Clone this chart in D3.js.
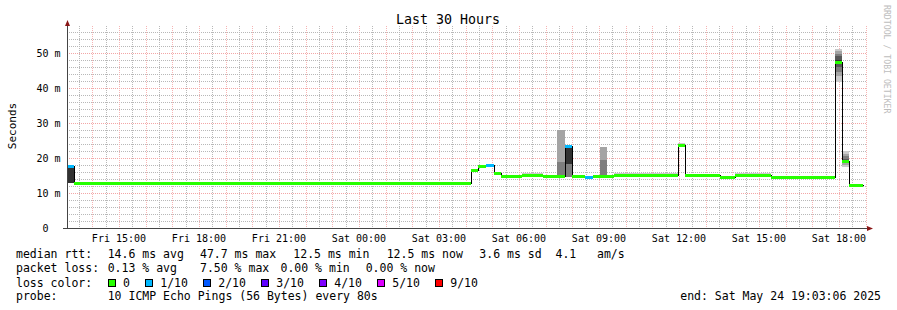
<!DOCTYPE html>
<html>
<head>
<meta charset="utf-8">
<title>Last 30 Hours</title>
<style>
  body { margin: 0; background: #fff; }
  svg text { font-family: "DejaVu Sans Mono", monospace; white-space: pre; fill: #000; }
</style>
</head>
<body>
<script src="https://cdn.jsdelivr.net/npm/d3@7/dist/d3.min.js"></script>
<script>
// step boundaries (one more than segments)
var bounds = [
  '2025-05-23 13:03:06', '2025-05-23 13:19:00', '2025-05-24 04:12:00', '2025-05-24 04:28:00',
  '2025-05-24 04:46:00', '2025-05-24 05:04:00', '2025-05-24 05:20:00', '2025-05-24 06:07:00',
  '2025-05-24 06:54:00', '2025-05-24 07:25:00', '2025-05-24 07:43:00', '2025-05-24 07:59:00',
  '2025-05-24 08:29:00', '2025-05-24 08:46:00', '2025-05-24 09:02:00', '2025-05-24 09:18:00',
  '2025-05-24 09:34:00', '2025-05-24 11:58:00', '2025-05-24 12:13:00', '2025-05-24 13:32:00',
  '2025-05-24 14:06:00', '2025-05-24 15:27:00', '2025-05-24 17:51:00', '2025-05-24 18:07:00',
  '2025-05-24 18:22:00', '2025-05-24 18:54:00'
];
// median rtt per segment, ms
var median = [17.7, 12.9, 16.6, 17.8, 18.1, 15.7, 14.9, 15.0, 14.8, 14.9, 23.5, 14.9, 14.6,
              14.9, 14.9, 14.9, 15.0, 23.6, 15.0, 14.7, 15.0, 14.7, 47.5, 19.2, 12.3];
// lost pings out of 10 per segment
var loss = [1, 0, 0, 0, 1, 0, 0, 0, 0, 0, 1, 0, 1, 0, 0, 0, 0, 0, 0, 0, 0, 0, 0, 0, 0];
// sorted ping times (ms) for the smoke, null where it hides under the median
var pings = [
  [12.9, 12.9, 12.9, 12.9, 12.9, 17.1, 17.1, 17.1, 17.1, 17.1],
  null, null, null, null, null, null,
  [14.9, 14.9, 14.9, 15.0, 15.0, 15.0, 15.0, 15.1, 15.3, 15.8],
  null,
  [14.8, 14.8, 14.9, 14.9, 14.9, 15.0, 15.0, 18.9, 28.0, 28.0],
  [14.7, 14.7, 14.7, 18.3, 18.3, 23.5, 23.5, 23.5, 23.5, 23.5],
  null, null, null,
  [14.9, 14.9, 14.9, 14.9, 14.9, 15.0, 15.0, 19.4, 23.1, 23.1],
  null,
  [14.9, 14.9, 15.0, 15.0, 15.0, 15.0, 15.0, 15.1, 15.3, 15.7],
  [23.3, 23.4, 23.5, 23.5, 23.6, 23.6, 23.7, 23.8, 24.0, 24.3],
  null, null,
  [14.9, 14.9, 15.0, 15.0, 15.0, 15.0, 15.0, 15.1, 15.2, 15.6],
  null,
  [41.8, 43.5, 44.5, 46.0, 47.0, 48.0, 49.0, 49.8, 50.5, 51.1],
  [17.5, 18.0, 18.5, 19.0, 19.2, 19.3, 19.6, 20.5, 21.2, 22.0],
  null
];
var lossLabels = ['0', '1/10', '2/10', '3/10', '4/10', '5/10', '9/10'];
var lossColors = ['#26ff00', '#00b8ff', '#0059ff', '#5e00ff', '#7e00ff', '#dd00ff', '#ff0000'];
var yTicks = [0, 10, 20, 30, 40, 50];
var rttItems = ['median rtt:', '14.6 ms avg', '47.7 ms max', '12.5 ms min', '12.5 ms now', '3.6 ms sd  4.1   am/s'];
var lossItems = ['packet loss:', '0.13 % avg', '7.50 % max', '0.00 % min', '0.00 % now'];
var probeItems = ['probe:', '10 ICMP Echo Pings (56 Bytes) every 80s'];
var endText = 'end: Sat May 24 19:03:06 2025';

var W = 897, H = 310;
var plot = {left: 67, right: 867, top: 26, bottom: 228};
var parse = d3.timeParse('%Y-%m-%d %H:%M:%S');
var times = bounds.map(parse);
var x = d3.scaleTime().domain([times[0], parse('2025-05-24 19:03:06')]).range([plot.left, plot.right]);
var y = d3.scaleLinear().domain([0, 57.7]).range([plot.bottom, plot.top]);

var svg = d3.select('body').append('svg').attr('width', W).attr('height', H);
svg.append('rect').attr('width', W).attr('height', H).attr('fill', '#fff');

// grid
var grid = svg.append('g').attr('shape-rendering', 'crispEdges');
var minorY = d3.range(2, 58, 2).filter(function(v) { return v % 10 != 0; });
var hours = x.ticks(d3.timeHour.every(1));
var halves = x.ticks(d3.timeMinute.every(30)).filter(function(t) { return t.getMinutes() != 0; });
function hline(v, c) {
  grid.append('line').attr('x1', plot.left).attr('x2', plot.right)
    .attr('y1', Math.round(y(v)) + 0.5).attr('y2', Math.round(y(v)) + 0.5)
    .attr('stroke', c).attr('stroke-dasharray', '1,1');
}
function vline(t, c) {
  grid.append('line').attr('y1', plot.top).attr('y2', plot.bottom)
    .attr('x1', Math.round(x(t)) + 0.5).attr('x2', Math.round(x(t)) + 0.5)
    .attr('stroke', c).attr('stroke-dasharray', '1,1');
}
minorY.forEach(function(v) { hline(v, '#b8b8b8'); });
halves.forEach(function(t) { vline(t, '#b8b8b8'); });
yTicks.slice(1).forEach(function(v) { hline(v, '#f3a6a6'); });
hours.forEach(function(t) { vline(t, '#f5b4b4'); });

// smoke: outer pairs light, inner pairs dark
var smoke = svg.append('g').attr('shape-rendering', 'crispEdges');
pings.forEach(function(p, i) {
  if (!p) return;
  for (var b = 0; b < 5; b++) {
    var g = Math.round(190 / 5 * (5 - (b + 1))) + 50;
    smoke.append('rect')
      .attr('x', Math.round(x(times[i])))
      .attr('width', Math.round(x(times[i + 1])) - Math.round(x(times[i])))
      .attr('y', Math.round(y(p[9 - b])))
      .attr('height', Math.max(0, Math.round(y(p[b])) - Math.round(y(p[9 - b]))))
      .attr('fill', d3.rgb(g, g, g));
  }
});

// median step line
var pts = median.map(function(m, i) { return [Math.round(x(times[i])) + 0.5, Math.round(y(m)) + 0.5]; });
pts.push([Math.round(x(times[times.length - 1])) + 0.5, Math.round(y(median[median.length - 1])) + 0.5]);
svg.append('path')
  .attr('d', d3.line().curve(d3.curveStepAfter)(pts))
  .attr('fill', 'none').attr('stroke', '#000').attr('stroke-width', 1)
  .attr('shape-rendering', 'crispEdges');

// loss coloured median
svg.append('g').attr('shape-rendering', 'crispEdges')
  .selectAll('rect').data(median).join('rect')
  .attr('x', function(d, i) { return Math.round(x(times[i])); })
  .attr('width', function(d, i) { return Math.round(x(times[i + 1])) - Math.round(x(times[i])); })
  .attr('y', function(d) { return Math.round(y(d)) - 1; })
  .attr('height', 3)
  .attr('fill', function(d, i) { return lossColors[loss[i]]; });

// axes
svg.append('line').attr('x1', plot.left + 0.5).attr('x2', plot.left + 0.5)
  .attr('y1', plot.top - 1).attr('y2', plot.bottom + 1)
  .attr('stroke', '#444').attr('shape-rendering', 'crispEdges');
svg.append('line').attr('x1', plot.left - 4).attr('x2', plot.right + 1)
  .attr('y1', plot.bottom + 0.5).attr('y2', plot.bottom + 0.5)
  .attr('stroke', '#444').attr('shape-rendering', 'crispEdges');
svg.append('path').attr('d', 'M65,26 L70,26 L67.5,20 Z').attr('fill', '#8a1616');
svg.append('path').attr('d', 'M867,226 L867,231 L873,228.5 Z').attr('fill', '#8a1616');

// tick labels
svg.append('g').selectAll('text').data(yTicks).join('text')
  .attr('x', function(d) { return d ? 60.5 : 48.5; })
  .attr('y', function(d) { return y(d) + 3.6; })
  .attr('text-anchor', 'end').attr('font-size', '10px')
  .text(function(d) { return d ? d + ' m' : '0'; });

svg.append('g').selectAll('text').data(x.ticks(d3.timeHour.every(3))).join('text')
  .attr('x', function(d) { return x(d); })
  .attr('y', 241.5)
  .attr('text-anchor', 'middle').attr('font-size', '10px')
  .text(d3.timeFormat('%a %H:%M'));

// titles
svg.append('text').attr('x', 448).attr('y', 24).attr('text-anchor', 'middle')
  .attr('font-size', '13.3px').text('Last 30 Hours');
svg.append('text').attr('transform', 'translate(15.5,126) rotate(-90)')
  .attr('text-anchor', 'middle').attr('font-size', '11px').text('Seconds');
svg.append('text').attr('transform', 'translate(884,5) rotate(90)')
  .attr('font-size', '8.2px').style('fill', '#bdbdbd').text('RRDTOOL / TOBI OETIKER');

// legend
var fs = '11.5px';
var col1 = [16, 107.7, 200, 293.3, 386.7, 479.3];
var col2 = [16, 107.7, 200, 280.5, 365.7];
rttItems.forEach(function(s, i) {
  svg.append('text').attr('x', col1[i]).attr('y', 258).attr('font-size', fs).text(s);
});
lossItems.forEach(function(s, i) {
  svg.append('text').attr('x', col2[i]).attr('y', 272).attr('font-size', fs).text(s);
});
svg.append('text').attr('x', 16).attr('y', 286.5).attr('font-size', fs).text('loss color:');
var sx = 108;
lossLabels.forEach(function(s, i) {
  svg.append('rect').attr('x', sx + 0.5).attr('y', 279.5).attr('width', 7).attr('height', 7)
    .attr('fill', lossColors[i]).attr('stroke', '#000').attr('shape-rendering', 'crispEdges');
  var t = svg.append('text').attr('x', sx + 15).attr('y', 286.5).attr('font-size', fs).text(s);
  sx = sx + 15 + t.node().getComputedTextLength() + 15.3;
});
probeItems.forEach(function(s, i) {
  svg.append('text').attr('x', col2[i]).attr('y', 300).attr('font-size', fs).text(s);
});
svg.append('text').attr('x', 881).attr('y', 300).attr('text-anchor', 'end')
  .attr('font-size', fs).text(endText);
</script>
</body>
</html>
